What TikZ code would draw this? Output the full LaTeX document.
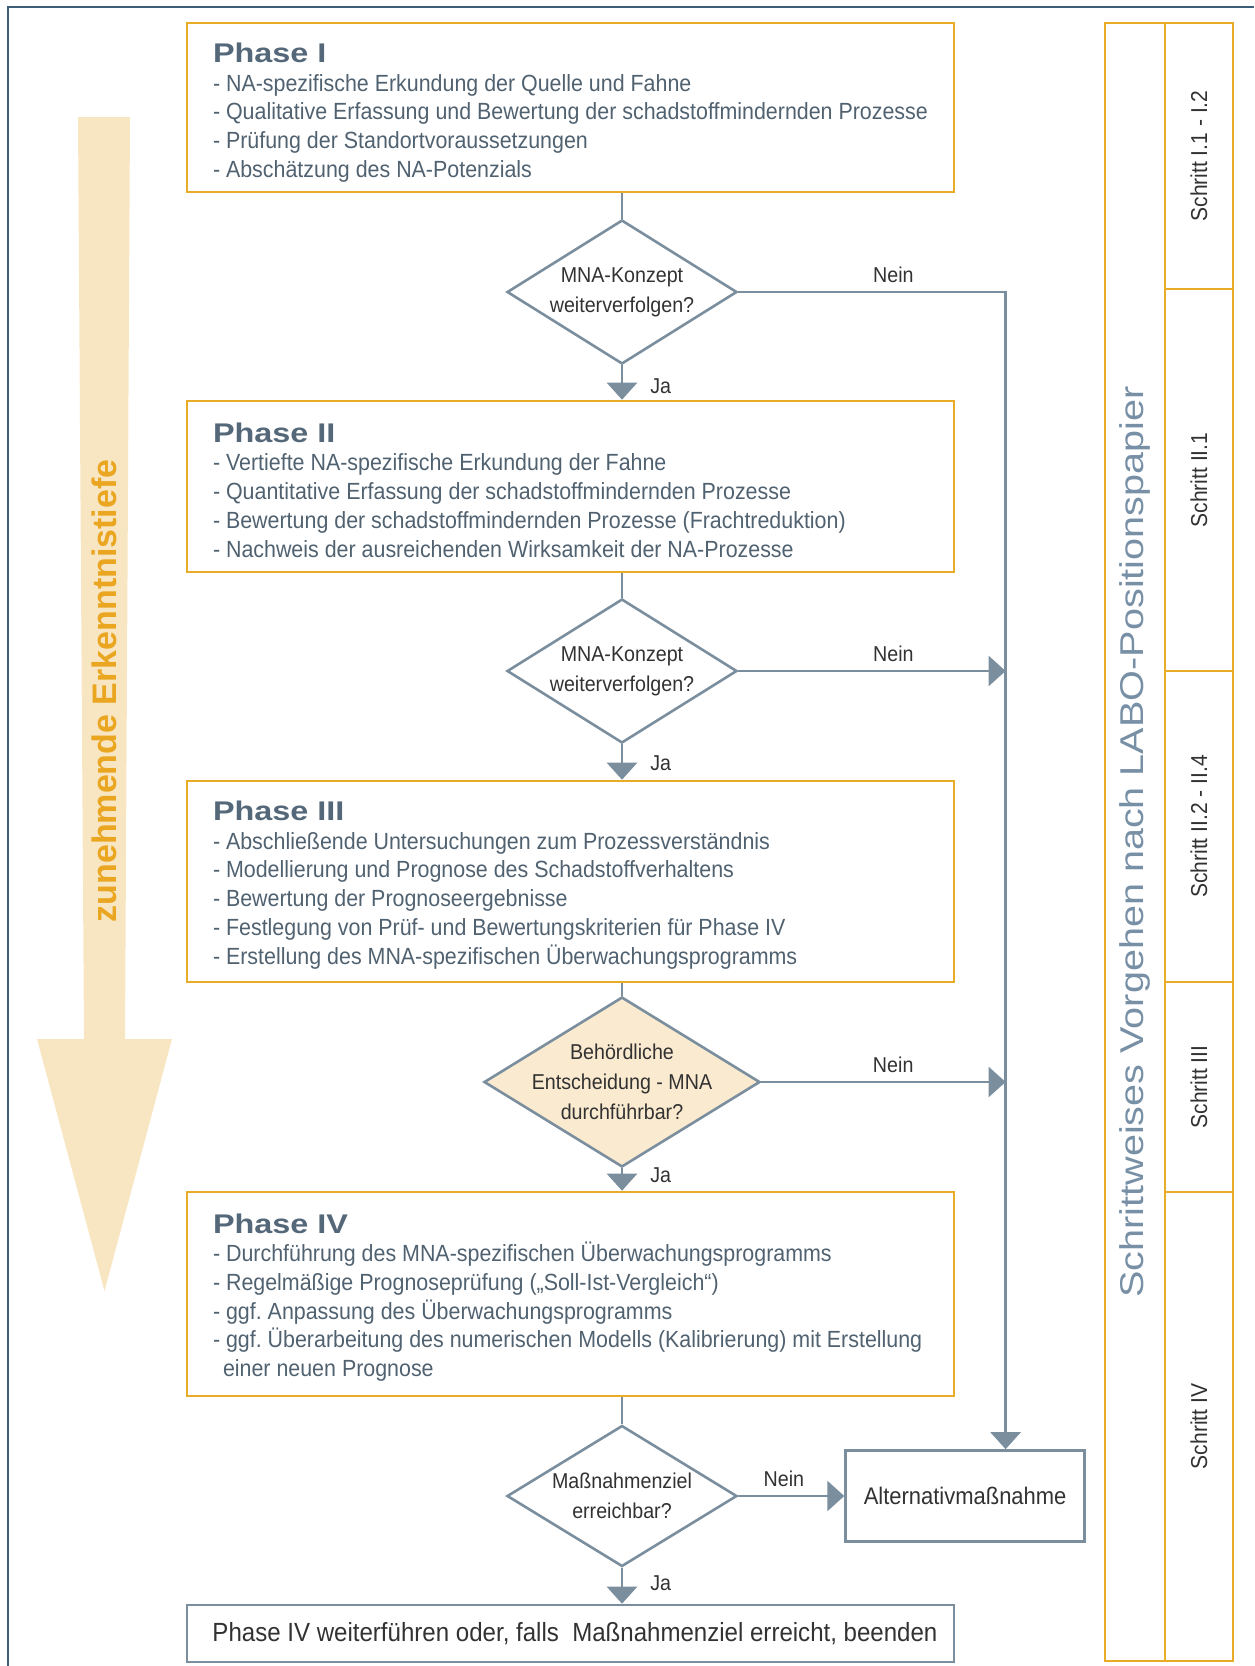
\documentclass[tikz,border=0pt]{standalone}
\usepackage{fontspec}
\setmainfont{Liberation Sans}
\newfontfamily\condfont[FakeStretch=0.915]{Liberation Sans}
\newfontfamily\widefont[FakeStretch=1.2]{Liberation Sans}
\usetikzlibrary{shapes.geometric, arrows.meta, positioning}

\definecolor{phaseyellow}{RGB}{233,172,38}
\definecolor{flowgray}{RGB}{122,142,158}
\definecolor{titleslate}{RGB}{84,104,122}
\definecolor{bodyslate}{RGB}{80,97,112}
\definecolor{darktext}{RGB}{50,50,50}
\definecolor{framblue}{RGB}{60,94,120}
\definecolor{arrowbeige}{RGB}{248,229,193}
\definecolor{decisionbeige}{RGB}{250,234,208}
\definecolor{labotext}{RGB}{120,144,166}
\definecolor{depthorange}{RGB}{234,166,32}

\newcommand{\bodyfont}{\condfont\fontsize{23.4}{28.7}\selectfont\frenchspacing}
\newcommand{\askfont}{\condfont\fontsize{21.5}{30}\selectfont}
\newcommand{\phasetitle}[2][26.5]{{\widefont\bfseries\fontsize{27}{30}\selectfont\color{titleslate}\rule{0pt}{#1pt}#2}}

\begin{document}
\begin{tikzpicture}[x=1pt, y=-1pt]
\tikzstyle{phase} = [draw=phaseyellow, line width=2.6pt, rectangle, text width=741pt, inner xsep=13pt, inner ysep=0pt, align=flush left, text=bodyslate, font=\bodyfont, execute at begin node={\leftskip=13pt\hyphenpenalty=10000}] % yellow phase block
\tikzstyle{decision} = [draw=flowgray, line width=2.6pt, shape=diamond, aspect=1.6, inner sep=-6pt, align=center, text=darktext, font=\askfont] % decision diamond
\tikzstyle{endblock} = [draw=flowgray, line width=2.6pt, rectangle, align=center, text=darktext, font=\condfont\fontsize{24}{28}\selectfont] % gray result block
\tikzstyle{stepcell} = [draw=phaseyellow, line width=2.6pt, rectangle, rotate=90, minimum height=68pt, inner sep=0pt, text=darktext, font=\condfont\fontsize{23}{26}\selectfont] % cell of the step column
\tikzstyle{flow} = [draw=flowgray, line width=2.6pt] % connector without tip
\tikzstyle{flowarrow} = [flow, -{Triangle[width=30pt, length=17pt]}] % connector with tip
\tikzstyle{answer} = [text=darktext, font=\askfont, inner sep=2pt] % Ja / Nein
\useasboundingbox (0,0) rectangle (1254,1666); % size of the page
\draw[framblue, line width=2.5pt] (8,1666) -- (8,7) -- (1254,7); % frame left and top

% arrow of increasing depth
\fill[arrowbeige] (78,117) -- (130,117) -- (125,1039) -- (172,1039) -- (104.5,1291) -- (37,1039) -- (84,1039) -- cycle;
\node[rotate=90, text=depthorange, font=\bfseries\fontsize{34}{34}\selectfont] (depth) at (104,691) {zunehmende Erkenntnistiefe};

% phase blocks
\node[phase, minimum height=169pt] (phaseI) at (570.5,107.5) {\phasetitle[29.5]{Phase I}\\
- NA-spezifische Erkundung der Quelle und Fahne\\
- Qualitative Erfassung und Bewertung der schadstoffmindernden Prozesse\\
- Prüfung der Standortvoraussetzungen\\
- Abschätzung des NA-Potenzials};
\node[phase, minimum height=171pt] (phaseII) at (570.5,486.5) {\phasetitle{Phase II}\\
- Vertiefte NA-spezifische Erkundung der Fahne\\
- Quantitative Erfassung der schadstoffmindernden Prozesse\\
- Bewertung der schadstoffmindernden Prozesse (Frachtreduktion)\\
- Nachweis der ausreichenden Wirksamkeit der NA-Prozesse};
\node[phase, minimum height=201pt] (phaseIII) at (570.5,881.5) {\phasetitle{Phase III}\\
- Abschließende Untersuchungen zum Prozessverständnis\\
- Modellierung und Prognose des Schadstoffverhaltens\\
- Bewertung der Prognoseergebnisse\\
- Festlegung von Prüf- und Bewertungskriterien für Phase IV\\
- Erstellung des MNA-spezifischen Überwachungsprogramms};
\node[phase, minimum height=204pt] (phaseIV) at (570.5,1294) {\phasetitle{Phase IV}\\
- Durchführung des MNA-spezifischen Überwachungsprogramms\\
- Regelmäßige Prognoseprüfung („Soll-Ist-Vergleich“)\\
- ggf. Anpassung des Überwachungsprogramms\\
- ggf. Überarbeitung des numerischen Modells (Kalibrierung) mit Erstellung\\
\hspace*{10pt}einer neuen Prognose};

% decisions
\node[decision, minimum width=230pt, minimum height=144pt] (askI) at (622,292) {MNA-Konzept\\weiterverfolgen?};
\node[decision, minimum width=230pt, minimum height=144pt] (askII) at (622,671) {MNA-Konzept\\weiterverfolgen?};
\node[decision, fill=decisionbeige, inner xsep=-28pt, minimum width=276pt, minimum height=170pt] (askIII) at (622,1082) {Behördliche\\Entscheidung - MNA\\durchführbar?};
\node[decision, minimum width=230pt, minimum height=141pt] (askIV) at (622,1496) {Maßnahmenziel\\erreichbar?};

% results
\node[endblock, right=106pt of askIV, minimum width=239pt, minimum height=91pt] (alternative) {Alternativmaßnahme};
\node[endblock, minimum width=767pt, minimum height=57pt, font=\condfont\fontsize{26.3}{30}\selectfont] (continue) at (570.5,1633.5) {\hspace*{9pt}Phase IV weiterführen oder, falls\ \ Maßnahmenziel erreicht, beenden};

% step column
\node[stepcell, minimum width=1638pt, minimum height=60pt, text=labotext, font=\widefont\fontsize{33}{33}\selectfont] (labo) at (1135,842) {Schrittweises Vorgehen nach LABO-Positionspapier};
\node[stepcell, minimum width=266pt] (stepI) at (1199,156) {Schritt I.1 - I.2};
\node[stepcell, minimum width=382pt] (stepIIa) at (1199,480) {Schritt II.1};
\node[stepcell, minimum width=311pt] (stepIIb) at (1199,826.5) {Schritt II.2 - II.4};
\node[stepcell, minimum width=210pt] (stepIII) at (1199,1087) {Schritt III};
\node[stepcell, minimum width=469pt] (stepIV) at (1199,1426.5) {Schritt IV};

% connectors
\coordinate (bus) at ([xshift=40.5pt]alternative.north); % where the Nein line comes down
\draw[flow] (phaseI.south -| askI.north) -- (askI.north);
\draw[flowarrow] (askI.south) -- node(jaI)[answer, right=25pt, pos=0.6]{Ja} (askI.south |- phaseII.north);
\draw[flowarrow] (askI.east) -- node(neinI)[answer, above=6pt, pos=0.58]{Nein} (askI.east -| bus) -- (bus);
\draw[flow] (phaseII.south -| askII.north) -- (askII.north);
\draw[flowarrow] (askII.south) -- node(jaII)[answer, right=25pt, pos=0.54]{Ja} (askII.south |- phaseIII.north);
\draw[flowarrow] (askII.east) -- node(neinII)[answer, above=6pt, pos=0.58]{Nein} (askII.east -| bus);
\draw[flow] (phaseIII.south -| askIII.north) -- (askIII.north);
\draw[flowarrow] (askIII.south) -- node(jaIII)[answer, right=25pt, pos=0.3]{Ja} (askIII.south |- phaseIV.north);
\draw[flowarrow] (askIII.east) -- node(neinIII)[answer, above=6pt, pos=0.54]{Nein} (askIII.east -| bus);
\draw[flow] (phaseIV.south -| askIV.north) -- (askIV.north);
\draw[flowarrow] (askIV.south) -- node(jaIV)[answer, right=25pt, pos=0.42]{Ja} (askIV.south |- continue.north);
\draw[flowarrow] (askIV.east) -- node(neinIV)[answer, above=6pt, pos=0.43]{Nein} (alternative.west);
\end{tikzpicture}
\end{document}
